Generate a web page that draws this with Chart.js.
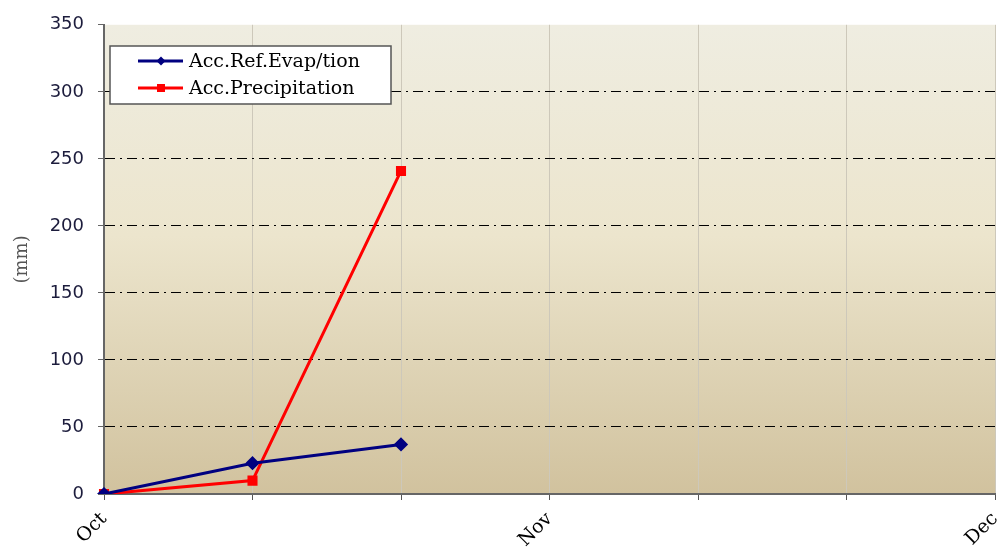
<!DOCTYPE html>
<html>
<head>
<meta charset="utf-8">
<script src="https://cdn.jsdelivr.net/npm/chart.js@4"></script>
<style>
  body { margin: 0; background: #fff; }
</style>
</head>
<body>
<canvas id="accChart" width="998" height="556"></canvas>
<script>
// data
const periods = ['Oct', '', '', 'Nov', '', '', 'Dec'];
const refEvap = [0, 23, 37];
const precip = [0, 10, 241];
const yTicks = [0, 50, 100, 150, 200, 250, 300, 350];

// plot background gradient
const bgPlugin = {
  id: 'bg',
  beforeDraw(chart) {
    const { ctx, chartArea: a } = chart;
    const g = ctx.createLinearGradient(0, a.top, 0, a.bottom);
    g.addColorStop(0, '#efede1');
    g.addColorStop(0.45, '#ece5cd');
    g.addColorStop(1, '#d1c29e');
    ctx.save();
    ctx.fillStyle = g;
    ctx.fillRect(a.left, a.top, a.right - a.left, a.bottom - a.top);
    ctx.restore();
  }
};

// boxed legend inside the plot
const boxLegend = {
  id: 'boxLegend',
  afterDraw(chart) {
    const ctx = chart.ctx;
    ctx.save();
    ctx.fillStyle = '#fff';
    ctx.strokeStyle = '#555';
    ctx.lineWidth = 1.5;
    ctx.fillRect(110, 46, 281, 58);
    ctx.strokeRect(110, 46, 281, 58);
    ctx.font = '19px "DejaVu Serif"';
    ctx.textBaseline = 'middle';
    chart.data.datasets.forEach((ds, i) => {
      const y = 61 + i * 27;
      ctx.strokeStyle = ds.borderColor;
      ctx.lineWidth = 3;
      ctx.beginPath();
      ctx.moveTo(138, y);
      ctx.lineTo(183, y);
      ctx.stroke();
      ctx.fillStyle = ds.borderColor;
      if (ds.pointStyle === 'rectRot') {
        ctx.beginPath();
        ctx.moveTo(161, y - 4.5); ctx.lineTo(165.5, y); ctx.lineTo(161, y + 4.5); ctx.lineTo(156.5, y);
        ctx.closePath();
        ctx.fill();
      } else {
        ctx.fillRect(157, y - 4, 8, 8);
      }
      ctx.fillStyle = '#000';
      ctx.fillText(ds.label, 189, y + 1);
    });
    ctx.restore();
  }
};

new Chart(document.getElementById('accChart'), {
  type: 'line',
  data: {
    labels: periods,
    datasets: [{
      label: 'Acc.Ref.Evap/tion',
      data: refEvap,
      borderColor: '#000080',
      backgroundColor: '#000080',
      borderWidth: 3,
      pointStyle: 'rectRot',
      pointRadius: 5,
      tension: 0
    }, {
      label: 'Acc.Precipitation',
      data: precip,
      borderColor: '#ff0000',
      backgroundColor: '#ff0000',
      borderWidth: 3,
      pointStyle: 'rect',
      pointRadius: 5,
      tension: 0
    }]
  },
  options: {
    responsive: false,
    animation: false,
    layout: { autoPadding: false, padding: { top: 24, right: 3, left: 0, bottom: 0 } },
    plugins: {
      legend: { display: false },
      tooltip: { enabled: false }
    },
    scales: {
      x: {
        offset: false,
        afterFit: (s) => { s.height = 62; s.paddingLeft = 0; s.paddingRight = 0; },
        grid: {
          color: (c) => c.index === 0 ? 'rgba(0,0,0,0)' : '#cdc8ba',
          lineWidth: 1,
          tickColor: '#555',
          tickLength: 6
        },
        border: { color: '#666', width: 2 },
        ticks: {
          autoSkip: false,
          maxRotation: 45,
          minRotation: 45,
          padding: 8,
          color: '#000',
          font: { family: '"DejaVu Serif"', size: 19 }
        }
      },
      y: {
        min: 0,
        max: 350,
        afterFit: (s) => { s.width = 104; },
        afterBuildTicks: (s) => { s.ticks = yTicks.map(v => ({ value: v })); },
        title: {
          display: true,
          text: '(mm)',
          color: '#555',
          font: { family: '"DejaVu Serif"', size: 18 },
          padding: { top: 12, bottom: 0 }
        },
        grid: {
          color: (c) => (c.tick.value === 0 || c.tick.value === 350) ? 'rgba(0,0,0,0)' : '#000',
          lineWidth: 1,
          tickColor: '#666',
          tickLength: 6,
          tickBorderDash: [0, 0]
        },
        border: { color: '#666', width: 2, dash: [10, 5, 2, 5] },
        ticks: {
          stepSize: 50,
          padding: 14,
          color: '#1c1c3c',
          font: { family: '"DejaVu Sans"', size: 18 }
        }
      }
    }
  },
  plugins: [bgPlugin, boxLegend]
});
</script>
</body>
</html>
